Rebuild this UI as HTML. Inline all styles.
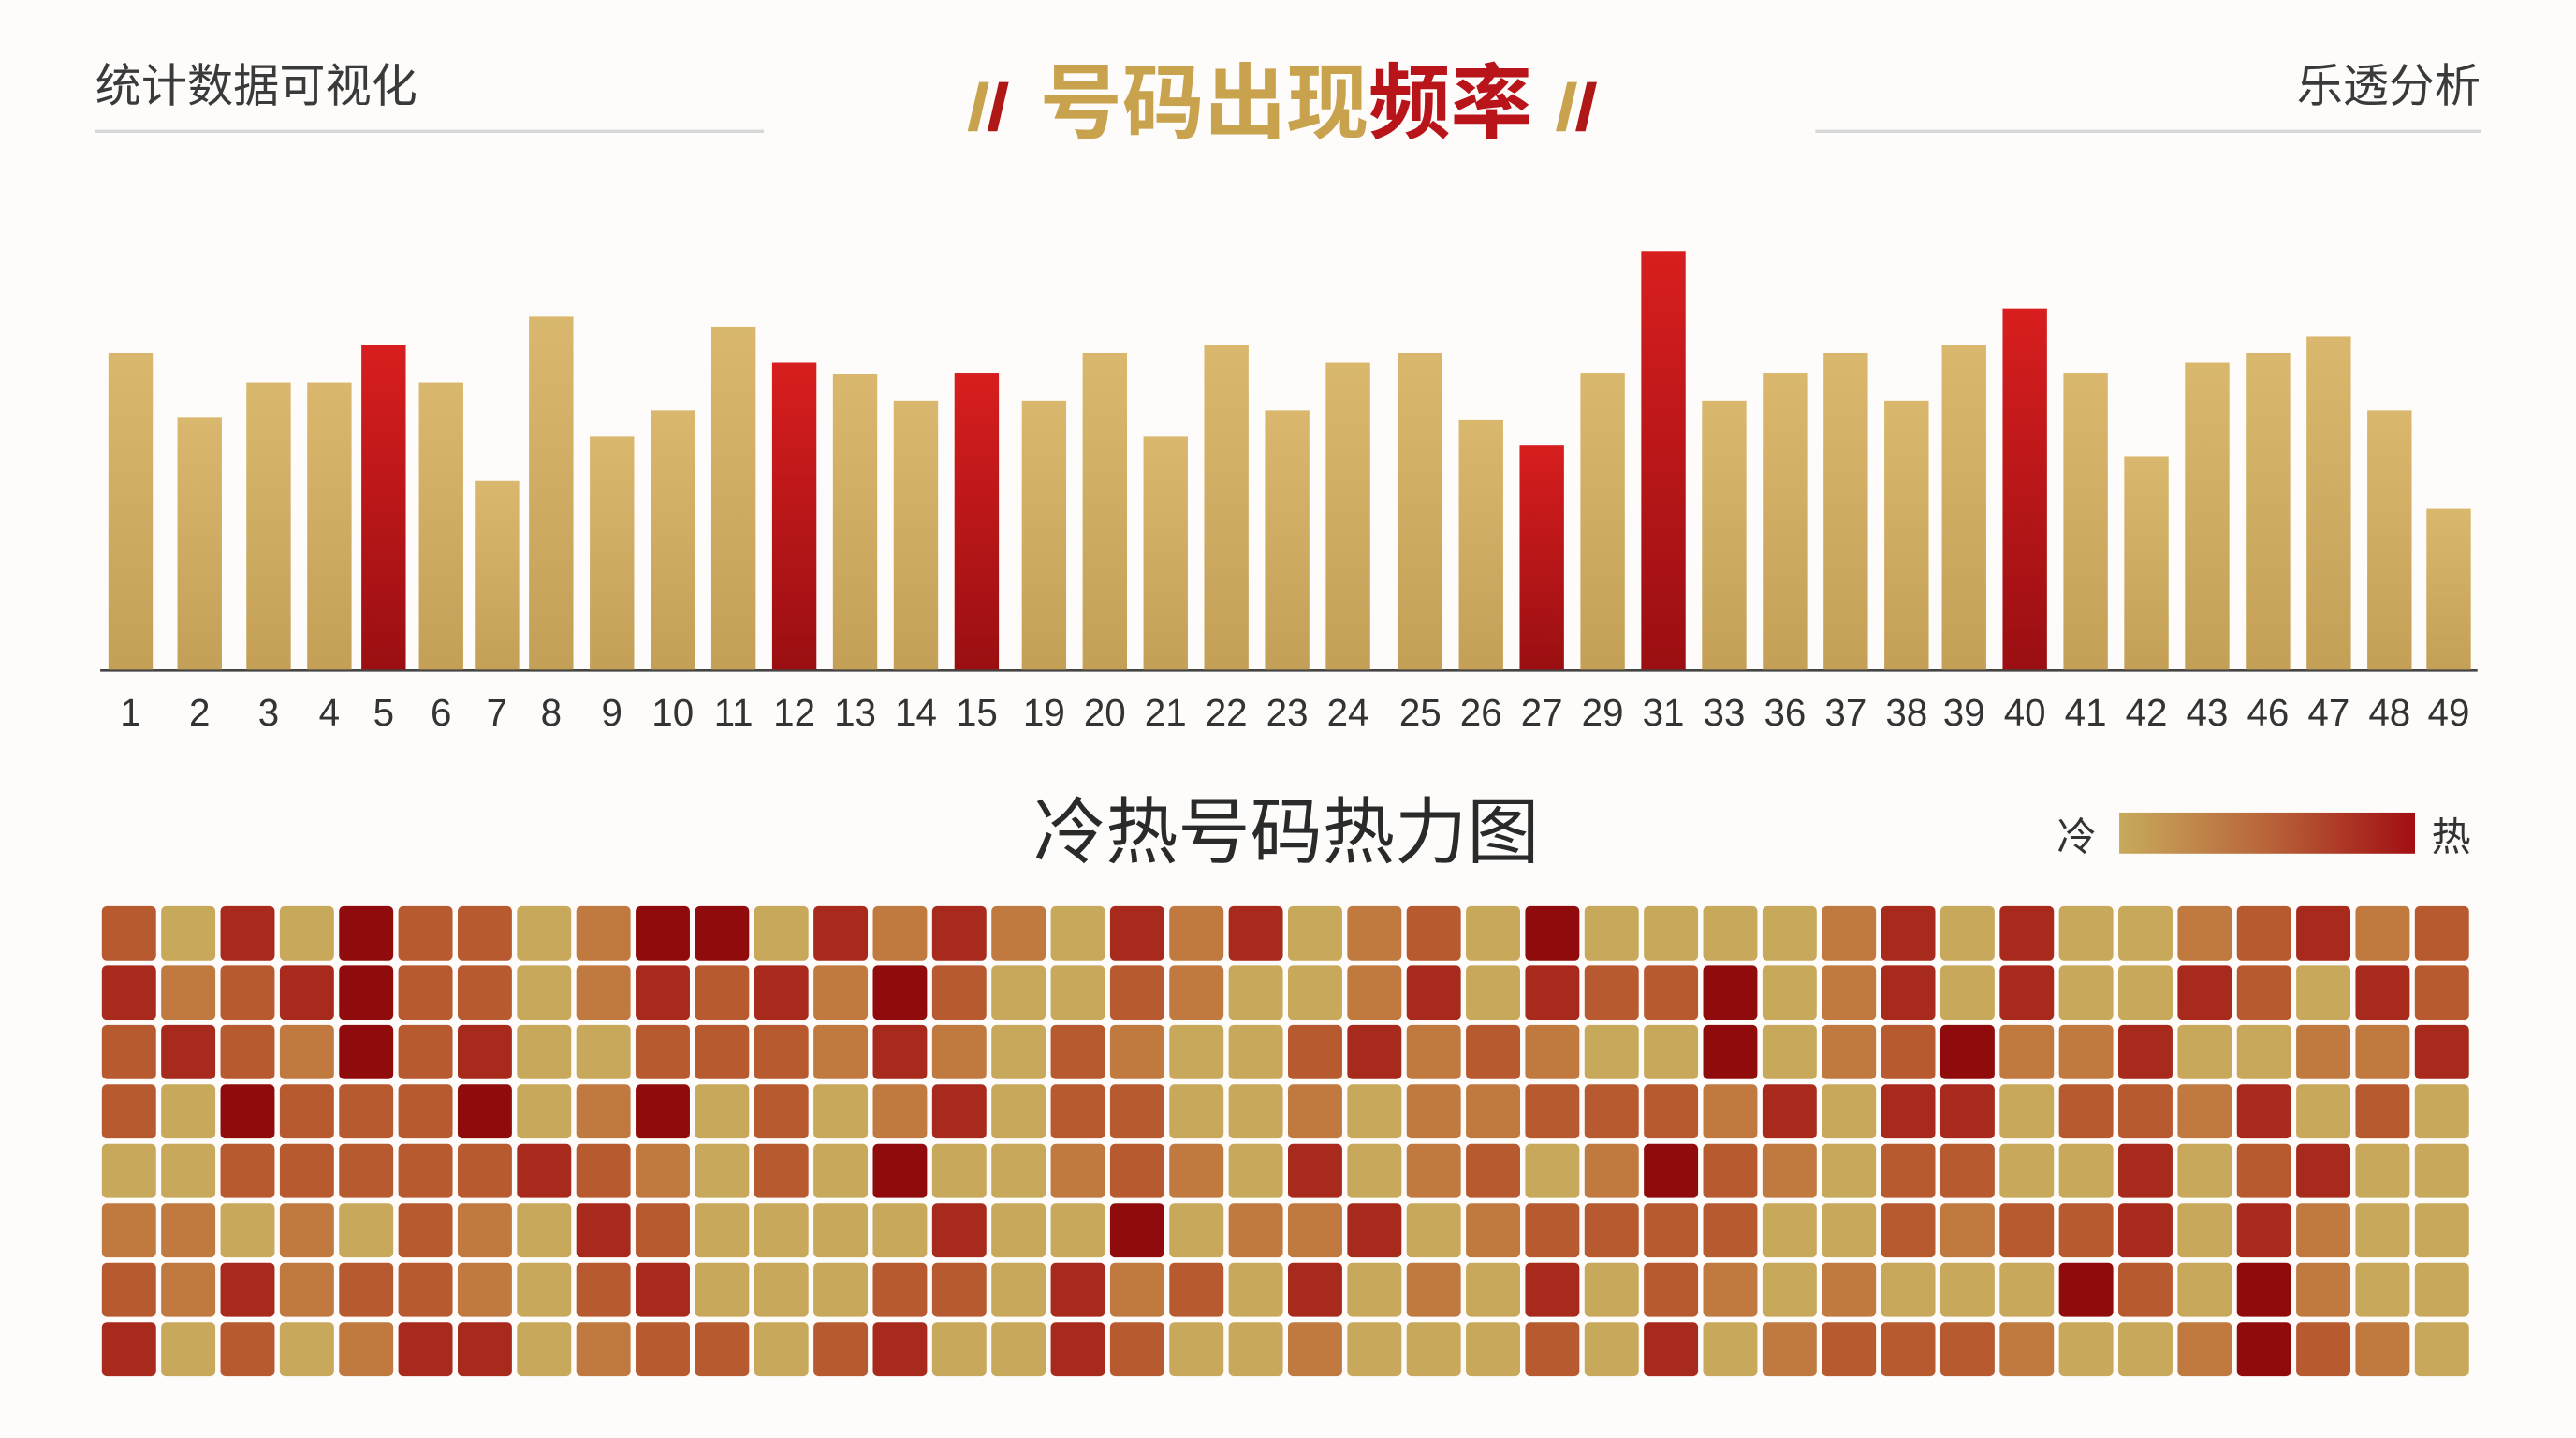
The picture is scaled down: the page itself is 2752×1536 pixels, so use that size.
<!DOCTYPE html>
<html><head><meta charset="utf-8"><style>
html,body{margin:0;padding:0;background:#fdfcfa;}
svg{display:block;}
text{font-family:"Liberation Sans","Noto Sans CJK SC",sans-serif;}
</style></head><body>
<svg id="s" width="2752" height="1536" viewBox="0 0 1568 876" preserveAspectRatio="none" xmlns="http://www.w3.org/2000/svg">
<defs>
<linearGradient id="gold" x1="0" y1="0" x2="0" y2="1"><stop offset="0" stop-color="#d9b86e"/><stop offset="1" stop-color="#c4a057"/></linearGradient>
<linearGradient id="red" x1="0" y1="0" x2="0" y2="1"><stop offset="0" stop-color="#d81e1e"/><stop offset="1" stop-color="#9a0f12"/></linearGradient>
<linearGradient id="leg" x1="0" y1="0" x2="1" y2="0"><stop offset="0" stop-color="#c8aa5c"/><stop offset="0.5" stop-color="#b8643a"/><stop offset="1" stop-color="#a20e12"/></linearGradient>
</defs>
<rect width="1568" height="876" fill="#fdfcfa"/>
<text x="58" y="62" font-size="28" fill="#3a3a3a">统计数据可视化</text>
<text x="1510" y="62" font-size="28" fill="#3a3a3a" text-anchor="end">乐透分析</text>
<line x1="58" y1="80" x2="465" y2="80" stroke="#d8d8d8" stroke-width="2"/>
<line x1="1105" y1="80" x2="1510" y2="80" stroke="#d8d8d8" stroke-width="2"/>
<polygon points="589,80 595,80 602,50 596,50" fill="#c9a24e"/>
<polygon points="601,80 607,80 614,50 608,50" fill="#b01818"/>
<polygon points="947,80 953,80 960,50 954,50" fill="#c9a24e"/>
<polygon points="959,80 965,80 972,50 966,50" fill="#b01818"/>
<text x="783" y="80" font-size="50" font-weight="bold" text-anchor="middle"><tspan fill="#c9a24e">号码出现</tspan><tspan fill="#b8141a">频率</tspan></text>
<line x1="61" y1="408.5" x2="1508" y2="408.5" stroke="#444" stroke-width="1.5"/>
<text x="783" y="522" font-size="44" fill="#2a2a2a" text-anchor="middle">冷热号码热力图</text>
<text x="1252" y="518" font-size="24" fill="#333">冷</text>
<rect x="1290" y="495" width="180" height="25" fill="url(#leg)"/>
<text x="1480" y="518" font-size="24" fill="#333">热</text>
</svg>
<script>
var ns="http://www.w3.org/2000/svg",s=document.getElementById('s');
function el(t,a,txt){var e=document.createElementNS(ns,t);for(var k in a)e.setAttribute(k,a[k]);if(txt)e.textContent=txt;s.appendChild(e);return e;}
var labels=[1,2,3,4,5,6,7,8,9,10,11,12,13,14,15,19,20,21,22,23,24,25,26,27,29,31,33,36,37,38,39,40,41,42,43,46,47,48,49];
var tops=[215,254,233,233,210,233,293,193,266,250,199,221,228,244,227,244,215,266,210,250,221,215,256,271,227,153,244,227,215,244,210,188,227,278,221,215,205,250,310];
var xs=[66,108,150,187,220,255,289,322,359,396,433,470,507,544,581,622,659,696,733,770,807,851,888,925,962,999,1036,1073,1110,1147,1182,1219,1256,1293,1330,1367,1404,1441,1477];
var reds={5:1,12:1,15:1,27:1,31:1,40:1};
for(var i=0;i<labels.length;i++){
 el('rect',{x:xs[i],y:tops[i],width:27,height:408-tops[i],fill:reds[labels[i]]?'url(#red)':'url(#gold)'});
 el('text',{x:xs[i]+13.5,y:442,'font-size':23,fill:'#333','text-anchor':'middle'},String(labels[i]));
}
var A=[
"20304220144031310313",
"31234220132314200210",
"23214230022213102100",
"20422240140201302200",
"00222223210204001210",
"11010210320000300401",
"21312210230002203120",
"30201330122023003200"];
var B=[
"01204000013030012312",
"01303224013030032032",
"23121004012411300113",
"10112221303302213020",
"30120142102200302300",
"13012222002122303100",
"30103021010004204100",
"10002030122210014210"];
var C=['#c8a85a','#c07a40','#b85a30','#a82a1c','#900c0c'];
for(var r=0;r<8;r++){var row=A[r]+B[r];for(var c=0;c<40;c++){
 el('rect',{x:62+c*36.1,y:552+r*36.2,width:33,height:33,rx:3,fill:C[+row[c]]});}}
</script>
</body></html>
